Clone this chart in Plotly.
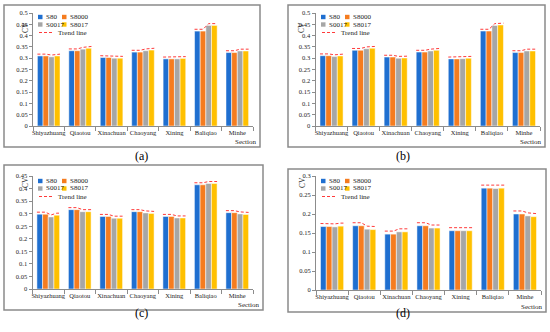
import plotly.graph_objects as go

sections = ["Shiyazhuang", "Qiaotou", "Xinachuan", "Chaoyang", "Xining", "Baliqiao", "Minhe"]
series_names = ["S80", "S8000", "S0017", "S8017"]
colors = ["#1F6FD0", "#F57C1F", "#A6A6A6", "#FFC000"]

# panel (a)
a_s80 = [0.310, 0.333, 0.303, 0.327, 0.297, 0.420, 0.325]
a_s8000 = [0.310, 0.333, 0.303, 0.327, 0.297, 0.420, 0.325]
a_s0017 = [0.306, 0.340, 0.300, 0.333, 0.297, 0.445, 0.332]
a_s8017 = [0.310, 0.344, 0.300, 0.336, 0.299, 0.445, 0.332]
# panel (b)
b_s80 = [0.311, 0.335, 0.305, 0.327, 0.297, 0.420, 0.325]
b_s8000 = [0.311, 0.335, 0.305, 0.327, 0.297, 0.420, 0.325]
b_s0017 = [0.307, 0.342, 0.300, 0.332, 0.298, 0.445, 0.332]
b_s8017 = [0.310, 0.344, 0.301, 0.335, 0.300, 0.447, 0.332]
# panel (c)
c_s80 = [0.298, 0.316, 0.289, 0.308, 0.289, 0.415, 0.304]
c_s8000 = [0.298, 0.316, 0.289, 0.308, 0.289, 0.415, 0.304]
c_s0017 = [0.287, 0.308, 0.282, 0.303, 0.283, 0.420, 0.299]
c_s8017 = [0.294, 0.308, 0.282, 0.301, 0.283, 0.420, 0.297]
# panel (d)
d_s80 = [0.167, 0.169, 0.147, 0.169, 0.156, 0.268, 0.200]
d_s8000 = [0.167, 0.169, 0.147, 0.169, 0.156, 0.268, 0.200]
d_s0017 = [0.166, 0.160, 0.153, 0.163, 0.156, 0.267, 0.195]
d_s8017 = [0.168, 0.159, 0.153, 0.163, 0.156, 0.268, 0.193]

y_max = [0.5, 0.5, 0.45, 0.3]
captions = ["(a)", "(b)", "(c)", "(d)"]

W, H = 550, 332
FONT = "Liberation Serif"


def px(x):
    return x / W


def py(y):
    return 1 - y / H


panel_data = [
    [a_s80, a_s8000, a_s0017, a_s8017],
    [b_s80, b_s8000, b_s0017, b_s8017],
    [c_s80, c_s8000, c_s0017, c_s8017],
    [d_s80, d_s8000, d_s0017, d_s8017],
]
# layout geometry (pixels): plot area x0,x1,ytop,ybottom ; frame ; legend origin
geo = [
    dict(x0=33, x1=253, yt=13, yb=126, fr=(4, 5, 260, 147), lx=38, ly=17, cap=(133, 156)),
    dict(x0=315.5, x1=540, yt=13, yb=126, fr=(288, 5, 545, 147), lx=321, ly=17, cap=(412, 156)),
    dict(x0=32.5, x1=253, yt=176, yb=289, fr=(4, 165, 263, 310), lx=38, ly=181, cap=(133, 322)),
    dict(x0=316, x1=541, yt=176, yb=290, fr=(288, 169, 546, 312), lx=321, ly=181, cap=(412, 322)),
]

offsets = [-0.27, -0.09, 0.09, 0.27]
bar_w = 0.18
trend_lift = 0.008

fig = go.Figure()
shapes = []
annotations = []
idx = list(range(len(sections)))

for p, (data, g) in enumerate(zip(panel_data, geo)):
    sfx = "" if p == 0 else str(p + 1)
    xa, ya = "x" + sfx, "y" + sfx
    for j, (vals, name, col) in enumerate(zip(data, series_names, colors)):
        fig.add_trace(go.Bar(
            x=[i + offsets[j] for i in idx], y=vals, width=bar_w, name=name,
            marker=dict(color=col, line=dict(color="white", width=0.5)),
            xaxis=xa, yaxis=ya, showlegend=False))
    tx, ty = [], []
    for i in idx:
        vals = [data[j][i] for j in range(4)]
        tx += [i + offsets[0] - bar_w / 2] + [i + o for o in offsets] + [i + offsets[3] + bar_w / 2, None]
        ty += [vals[0] + trend_lift] + [v + trend_lift for v in vals] + [vals[3] + trend_lift, None]
    fig.add_trace(go.Scatter(x=tx, y=ty, mode="lines", name="Trend line",
                             line=dict(color="#FF3B3B", width=1, dash="3px,2px"),
                             xaxis=xa, yaxis=ya, showlegend=False, connectgaps=False))

    fig.layout["xaxis" + sfx] = dict(
        domain=[px(g["x0"]), px(g["x1"])], anchor=ya, range=[-0.5, 6.5],
        tickmode="array", tickvals=idx, ticktext=sections, ticks="", showgrid=False,
        tickangle=0, automargin=False,
        zeroline=False, showline=True, linecolor="#8C8C8C", linewidth=1,
        tickfont=dict(family=FONT, size=6.5, color="#222"),
        minor=dict(tickmode="linear", tick0=-0.5, dtick=1, ticks="outside", ticklen=4,
                   tickcolor="#8C8C8C", showgrid=False),
        fixedrange=True)
    fig.layout["yaxis" + sfx] = dict(
        domain=[py(g["yb"]), py(g["yt"])], anchor=xa, range=[0, y_max[p]], dtick=0.05,
        ticks="outside", ticklen=3, tickcolor="#8C8C8C", showgrid=False, zeroline=False,
        showline=True, linecolor="#8C8C8C", linewidth=1, automargin=False,
        tickfont=dict(family=FONT, size=6.5, color="#222"), fixedrange=True)

    # frame
    x0, y0, x1, y1 = g["fr"]
    shapes.append(dict(type="rect", xref="paper", yref="paper", x0=px(x0), x1=px(x1),
                       y0=py(y1), y1=py(y0), line=dict(color="#8A8A8A", width=1.5)))
    # CV title
    annotations.append(dict(text="CV", xref="paper", yref="paper", x=px(g["x0"] - 14),
                            y=py(g["yt"] + 7), textangle=-90, showarrow=False,
                            font=dict(family=FONT, size=7.5, color="#222")))
    # Section label
    annotations.append(dict(text="Section", xref="paper", yref="paper", x=px(x1 - 2),
                            y=py(y1 - 5), xanchor="right", yanchor="middle", showarrow=False,
                            font=dict(family=FONT, size=7, color="#222")))
    # caption
    cx, cy = g["cap"]
    annotations.append(dict(text=captions[p], xref="paper", yref="paper", x=px(cx), y=py(cy),
                            showarrow=False, font=dict(family=FONT, size=12, color="#000")))
    # manual legend
    lx, ly = g["lx"], g["ly"]
    pos = [(lx, ly), (lx + 24, ly), (lx, ly + 7.5), (lx + 24, ly + 7.5)]
    for (sx, sy), name, col in zip(pos, series_names, colors):
        shapes.append(dict(type="rect", xref="paper", yref="paper", x0=px(sx), x1=px(sx + 4.5),
                           y0=py(sy + 2.2), y1=py(sy - 2.2), fillcolor=col, line=dict(width=0)))
        annotations.append(dict(text=name, xref="paper", yref="paper", x=px(sx + 5.5), y=py(sy),
                                xanchor="left", yanchor="middle", showarrow=False,
                                font=dict(family=FONT, size=7, color="#222")))
    ty_ = ly + 15.5
    shapes.append(dict(type="line", xref="paper", yref="paper", x0=px(lx + 1), x1=px(lx + 15),
                       y0=py(ty_), y1=py(ty_), line=dict(color="#FF3B3B", width=1, dash="3px,2px")))
    annotations.append(dict(text="Trend line", xref="paper", yref="paper", x=px(lx + 18), y=py(ty_),
                            xanchor="left", yanchor="middle", showarrow=False,
                            font=dict(family=FONT, size=7, color="#222")))

fig.update_layout(
    width=W, height=H, margin=dict(l=0, r=0, t=0, b=0),
    paper_bgcolor="white", plot_bgcolor="white", barmode="overlay",
    shapes=shapes, annotations=annotations, showlegend=False,
    font=dict(family=FONT),
)

fig.write_html("out.html", config={"displayModeBar": False, "staticPlot": True},
               post_script="document.body.style.margin='0px';")
